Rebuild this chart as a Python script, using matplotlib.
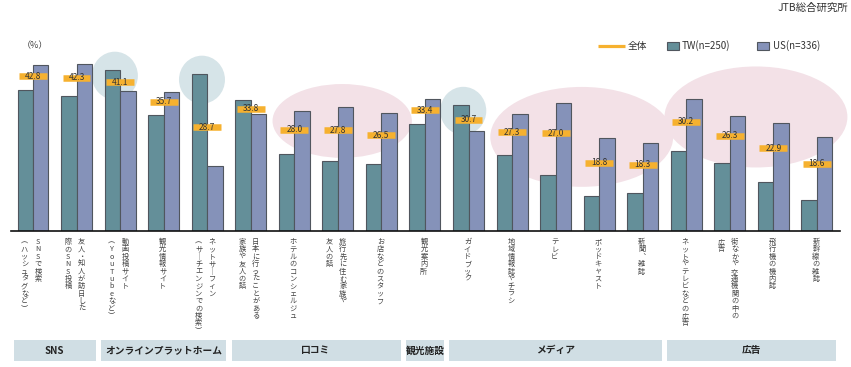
import matplotlib
matplotlib.use("Agg")
import matplotlib.pyplot as plt
from matplotlib.patches import Rectangle, Ellipse
from matplotlib.lines import Line2D
from matplotlib.transforms import blended_transform_factory

plt.rcParams['font.family'] = ['Noto Sans CJK JP', 'DejaVu Sans']

# data (%)
labels = [
    "SNSで検索\n（ハッシュタグなど）",
    "友人・知人が訪日した\n際のSNS投稿",
    "動画投稿サイト\n（YouTubeなど）",
    "観光情報サイト",
    "ネットサーフィン\n（サーチエンジンでの検索）",
    "日本に行ったことがある\n家族や友人の話",
    "ホテルのコンシェルジュ",
    "旅行先に住む家族や\n友人の話",
    "お店などのスタッフ",
    "観光案内所",
    "ガイドブック",
    "地域情報誌やチラシ",
    "テレビ",
    "ポッドキャスト",
    "新聞、雑誌",
    "ネットやテレビなどの広告",
    "街なかや交通機関の中の\n広告",
    "飛行機の機内誌",
    "新幹線の雑誌",
]
total = [42.8, 42.3, 41.1, 35.7, 28.7, 33.8, 28.0, 27.8, 26.5, 33.4,
         30.7, 27.3, 27.0, 18.8, 18.3, 30.2, 26.3, 22.9, 18.6]
tw = [38.9, 37.2, 44.4, 32.0, 43.3, 36.1, 21.2, 19.2, 18.4, 29.6,
      34.7, 20.9, 15.6, 9.7, 10.4, 22.1, 18.7, 13.6, 8.7]
us = [45.9, 46.1, 38.7, 38.5, 17.9, 32.2, 33.1, 34.3, 32.5, 36.4,
      27.7, 32.2, 35.4, 25.6, 24.2, 36.4, 31.9, 29.7, 25.9]

group_names = ["SNS", "オンラインプラットホーム", "口コミ", "観光施設", "メディア", "広告"]
group_sizes = [2, 3, 4, 1, 5, 4]

blue_idx = [2, 4, 10]
# (first, last, y centre, height) of the pink highlights
pink_spans = [(6, 8, 30.4, 20.4), (11, 14, 26.0, 27.6), (15, 18, 31.5, 27.9)]

C_TW = "#648f99"
C_US = "#8592b9"
C_EDGE = "#50565e"
C_ORANGE = "#f6b12f"
C_BLUE = "#d6e4e8"
C_PINK = "#f3e1e7"
C_BOX = "#d0dee4"

W, H = 851, 367
fig = plt.figure(figsize=(W / 100, H / 100), dpi=100)
ax = fig.add_axes([11 / W, (H - 231) / H, 829 / W, 181 / H])
ax.set_xlim(-0.505, 18.53)
ax.set_ylim(0, 50)
PX = 829 / (18.53 + 0.505)   # pixels per category unit
PY = 181 / 50                # pixels per percent

n = len(labels)
x = list(range(n))
bw = 0.355

# highlight shapes behind bars
for i in blue_idx:
    ax.add_patch(Ellipse((i - 0.12, tw[i] - 1.5), 46 / PX, 48 / PY,
                         color=C_BLUE, lw=0, zorder=0, clip_on=False))
for a, b, yc, hh in pink_spans:
    xc = (a + b) / 2 + 0.1
    ax.add_patch(Ellipse((xc, yc), (b - a) + 1.2, hh,
                         color=C_PINK, lw=0, zorder=0, clip_on=False))

ax.bar([v - bw / 2 for v in x], tw, bw, color=C_TW, edgecolor=C_EDGE, lw=0.8, zorder=2)
ax.bar([v + bw / 2 for v in x], us, bw, color=C_US, edgecolor=C_EDGE, lw=0.8, zorder=2)

# overall value markers
for i, v in enumerate(total):
    ax.plot([i - 0.32, i + 0.32], [v, v], color=C_ORANGE, lw=4.7,
            solid_capstyle='butt', zorder=3)
    ax.text(i, v, f"{v:.1f}", ha='center', va='center', fontsize=6,
            color='#333333', zorder=4)

for s in ['top', 'right', 'left']:
    ax.spines[s].set_visible(False)
ax.spines['bottom'].set_linewidth(1.2)
ax.spines['bottom'].set_color('#111111')
ax.set_xticks([])
ax.set_yticks([])

# vertical category labels, one character at a time
vert = {"（": "︵", "）": "︶", "ー": "︱", "、": "︑"}
tr = blended_transform_factory(ax.transData, fig.transFigure)
for i, lab in enumerate(labels):
    cols = lab.split("\n")
    offs = [-1] if len(cols) == 1 else [5, -8.5]
    for col, dx in zip(cols, offs):
        for j, ch in enumerate(col):
            ypx = 242 + j * 7.4
            ax.text(i + dx / PX, 1 - ypx / H, vert.get(ch, ch), transform=tr,
                    ha='center', va='center', fontsize=5.2, color='#444444')

# category group boxes
start = 0
for name, size in zip(group_names, group_sizes):
    x0 = start - 0.5 + 0.06
    x1 = start + size - 1 + 0.5 - 0.06
    ax.add_patch(Rectangle((x0, 1 - 361 / H), x1 - x0, 21 / H, transform=tr,
                           color=C_BOX, lw=0, clip_on=False))
    ax.text((x0 + x1) / 2, 1 - 350.5 / H, name, transform=tr, ha='center',
            va='center', fontsize=7, fontweight='bold', color='#222222')
    start += size

# legend drawn by hand
def fx(p):
    return p / W

def fy(p):
    return 1 - p / H

fig.add_artist(Line2D([fx(598), fx(625)], [fy(45.7), fy(45.7)], color=C_ORANGE,
                      lw=2.3, solid_capstyle='butt'))
fig.text(fx(628), fy(45.7), "全体", fontsize=7, va='center', color='#333333')
fig.add_artist(Rectangle((fx(667), fy(50)), 12 / W, 8.5 / H, facecolor=C_TW,
                         edgecolor=C_EDGE, lw=0.8))
fig.text(fx(682), fy(45.7), "TW(n=250)", fontsize=7, va='center', color='#333333')
fig.add_artist(Rectangle((fx(757), fy(50)), 12 / W, 8.5 / H, facecolor=C_US,
                         edgecolor=C_EDGE, lw=0.8))
fig.text(fx(773), fy(45.7), "US(n=336)", fontsize=7, va='center', color='#333333')

fig.text(fx(22), fy(46), "（%）", fontsize=6.5, va='center', color='#444444')
fig.text(fx(848), fy(8), "JTB総合研究所", fontsize=7.5, ha='right', va='center',
         color='#333333')

fig.savefig("out.png", dpi=100)
